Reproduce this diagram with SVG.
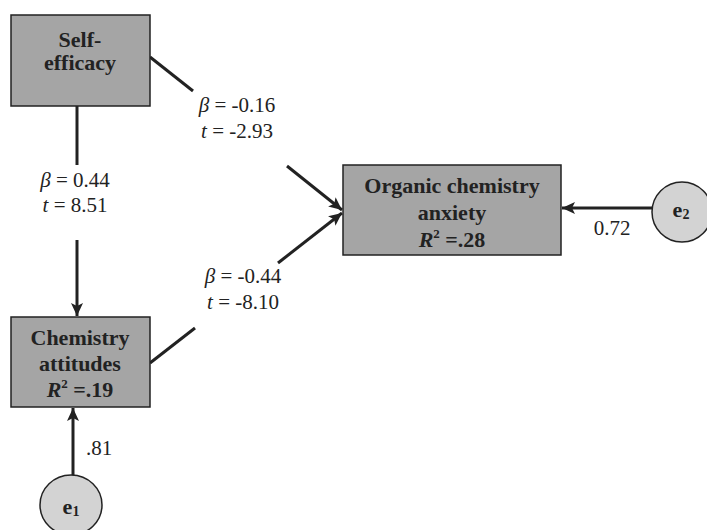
<svg xmlns="http://www.w3.org/2000/svg" width="707" height="530" viewBox="0 0 707 530">
<style>
.box{fill:#a5a5a5;stroke:#222;stroke-width:1.5}
.err{fill:#d3d3d3;stroke:#222;stroke-width:1.5}
.b{font-family:"Liberation Serif","Times New Roman",serif;font-weight:bold;font-size:22px;fill:#222;text-anchor:middle}
.r{font-family:"Liberation Serif","Times New Roman",serif;font-size:21px;fill:#222;text-anchor:middle}
.ln{stroke:#222;stroke-width:3;fill:none}
</style>
<defs>
<marker id="ah" markerUnits="userSpaceOnUse" markerWidth="16" markerHeight="14" refX="13" refY="6" orient="auto">
<path d="M0,0 L13,6 L0,12 L3,6 z" fill="#222"/>
</marker>
</defs>
<rect width="707" height="530" fill="#fff"/>
<g id="connectors">
<line class="ln" x1="77" y1="106" x2="77" y2="165"/>
<line class="ln" x1="77" y1="240" x2="77" y2="316" marker-end="url(#ah)"/>
<line class="ln" x1="150" y1="57" x2="193" y2="91"/>
<line class="ln" x1="287" y1="166" x2="342" y2="210" marker-end="url(#ah)"/>
<line class="ln" x1="150" y1="363" x2="195" y2="328"/>
<line class="ln" x1="278" y1="263" x2="342" y2="213" marker-end="url(#ah)"/>
<line class="ln" x1="652" y1="208" x2="562" y2="208" marker-end="url(#ah)"/>
<line class="ln" x1="73" y1="475" x2="73" y2="408" marker-end="url(#ah)"/>
<text class="r" x="75" y="187"><tspan font-style="italic">β</tspan> = 0.44</text>
<text class="r" x="75" y="212"><tspan font-style="italic">t</tspan> = 8.51</text>
<text class="r" x="237" y="112"><tspan font-style="italic">β</tspan> = -0.16</text>
<text class="r" x="237" y="138"><tspan font-style="italic">t</tspan> = -2.93</text>
<text class="r" x="243" y="283"><tspan font-style="italic">β</tspan> = -0.44</text>
<text class="r" x="243" y="309"><tspan font-style="italic">t</tspan> = -8.10</text>
<text class="r" x="612" y="235">0.72</text>
<text class="r" x="99" y="455">.81</text>
</g>
<g id="self-efficacy">
<rect class="box" x="11" y="15" width="139" height="91"/>
<text class="b" x="80" y="47">Self-</text>
<text class="b" x="80" y="70">efficacy</text>
</g>
<g id="organic-chemistry-anxiety">
<rect class="box" x="343" y="165" width="218" height="90"/>
<text class="b" x="452" y="193">Organic chemistry</text>
<text class="b" x="452" y="220">anxiety</text>
<text class="b" x="452" y="247"><tspan font-style="italic">R</tspan><tspan font-size="13" dy="-9">2</tspan><tspan dy="9"> =.28</tspan></text>
</g>
<g id="chemistry-attitudes">
<rect class="box" x="11" y="317" width="139" height="90"/>
<text class="b" x="80" y="345">Chemistry</text>
<text class="b" x="80" y="371">attitudes</text>
<text class="b" x="80" y="397"><tspan font-style="italic">R</tspan><tspan font-size="13" dy="-9">2</tspan><tspan dy="9"> =.19</tspan></text>
</g>
<g id="e1">
<ellipse class="err" cx="71" cy="505" rx="31" ry="30"/>
<text class="b" x="71" y="514" font-size="21">e<tspan font-size="14" dy="2">1</tspan></text>
</g>
<g id="e2">
<ellipse class="err" cx="682" cy="212" rx="30" ry="30"/>
<text class="b" x="681" y="217" font-size="21">e<tspan font-size="14" dy="2">2</tspan></text>
</g>
</svg>
